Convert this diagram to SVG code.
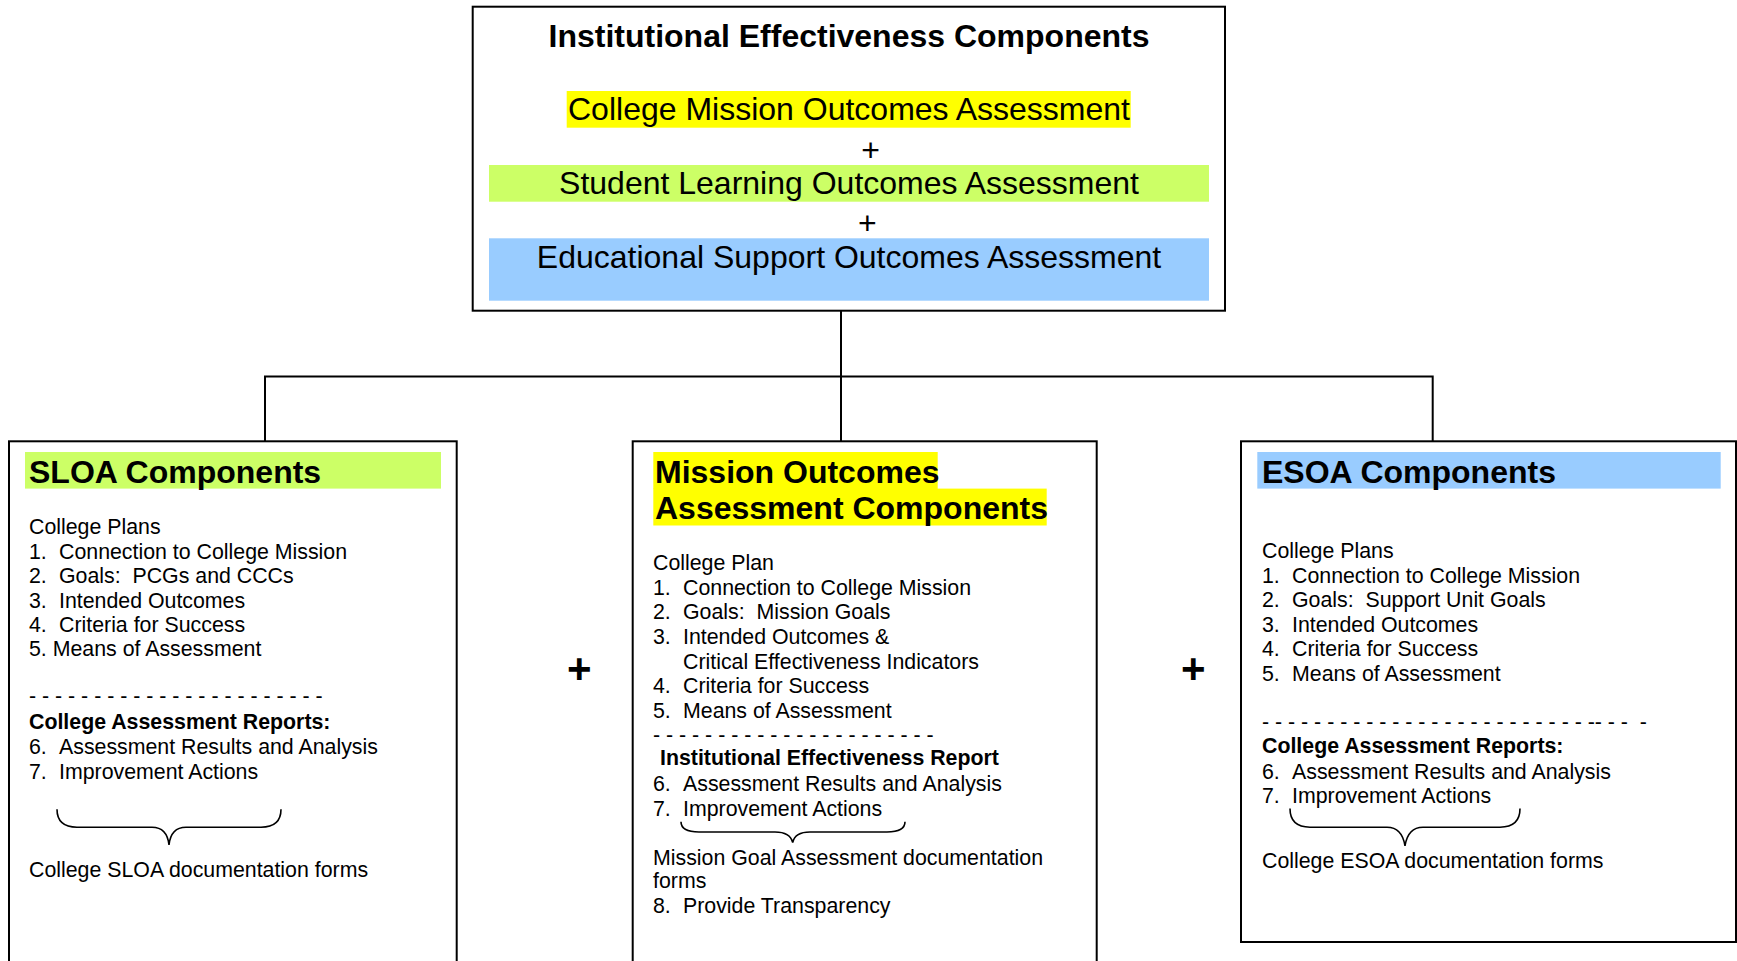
<svg xmlns="http://www.w3.org/2000/svg" width="1737" height="961" viewBox="0 0 1737 961">
<style>
  text { font-family: "Liberation Sans", Arial, sans-serif; fill: #000; white-space: pre; }
  .box { fill: #fff; stroke: #000; stroke-width: 2; }
  .conn { fill: none; stroke: #000; stroke-width: 2; }
  .brace { fill: none; stroke: #000; stroke-width: 1.6; }
  .big { font-size: 32px; }
  .hdr { font-size: 32px; font-weight: bold; }
  .body { font-size: 21.33px; }
  .bold { font-size: 21.33px; font-weight: bold; }
  .plus { font-size: 42px; font-weight: bold; }
  .yel { fill: #FFFF00; }
  .grn { fill: #CCFF66; }
  .blu { fill: #99CCFF; }
</style>
<rect width="1737" height="961" fill="#fff"/>

<g id="connectors">
  <path class="conn" d="M841,311 V441"/>
  <path class="conn" d="M265,441 V376.5 H1432.7 V441"/>
</g>

<g id="top">
  <rect class="box" x="472.7" y="6.7" width="752.3" height="304"/>
  <text x="849" y="46.7" class="hdr" text-anchor="middle">Institutional Effectiveness Components</text>
  <rect class="yel" x="566.7" y="91" width="564" height="36.7"/>
  <text x="849" y="120" class="big" text-anchor="middle">College Mission Outcomes Assessment</text>
  <text x="870.7" y="161" class="big" text-anchor="middle">+</text>
  <rect class="grn" x="489" y="165" width="720" height="36.7"/>
  <text x="849" y="194.3" class="big" text-anchor="middle">Student Learning Outcomes Assessment</text>
  <text x="867.3" y="233.5" class="big" text-anchor="middle">+</text>
  <rect class="blu" x="489" y="238.3" width="720" height="62.4"/>
  <text x="849" y="267.7" class="big" text-anchor="middle">Educational Support Outcomes Assessment</text>
</g>

<g id="sloa">
  <rect class="box" x="9" y="441.3" width="447.7" height="540"/>
  <rect class="grn" x="25" y="452" width="416" height="36.6"/>
  <text x="29" y="482.5" class="hdr">SLOA Components</text>
  <g class="body">
    <text x="29" y="534.3">College Plans</text>
    <text x="29" y="558.7">1.</text><text x="59" y="558.7">Connection to College Mission</text>
    <text x="29" y="583.1">2.</text><text x="59" y="583.1" xml:space="preserve">Goals:  PCGs and CCCs</text>
    <text x="29" y="607.8">3.</text><text x="59" y="607.8">Intended Outcomes</text>
    <text x="29" y="632.2">4.</text><text x="59" y="632.2">Criteria for Success</text>
    <text x="29" y="656.2">5. Means of Assessment</text>
    <text x="29" y="703.3" xml:space="preserve">- - - - - - - - - - - - - - - - - - - - - - -</text>
    <text x="29" y="754.4">6.</text><text x="59" y="754.4">Assessment Results and Analysis</text>
    <text x="29" y="778.8">7.</text><text x="59" y="778.8">Improvement Actions</text>
    <text x="29" y="877">College SLOA documentation forms</text>
  </g>
  <text x="29" y="729" class="bold">College Assessment Reports:</text>
  <path class="brace" d="M57,809.3 Q57,827.2 77,827.2 L152,827.2 Q167,827.2 169,844.8 Q171,827.2 186,827.2 L261,827.2 Q281,827.2 281,809.3"/>
</g>

<g id="mission">
  <rect class="box" x="632.7" y="441.3" width="464" height="540"/>
  <rect class="yel" x="653.3" y="452" width="284.4" height="37"/>
  <rect class="yel" x="653.3" y="488.6" width="393.4" height="36.9"/>
  <text x="655" y="482.5" class="hdr">Mission Outcomes</text>
  <text x="655" y="518.7" class="hdr">Assessment Components</text>
  <g class="body">
    <text x="653" y="569.5">College Plan</text>
    <text x="653" y="595.3">1.</text><text x="683" y="595.3">Connection to College Mission</text>
    <text x="653" y="619">2.</text><text x="683" y="619" xml:space="preserve">Goals:  Mission Goals</text>
    <text x="653" y="644">3.</text><text x="683" y="644">Intended Outcomes &amp;</text>
    <text x="683" y="668.7">Critical Effectiveness Indicators</text>
    <text x="653" y="693.1">4.</text><text x="683" y="693.1">Criteria for Success</text>
    <text x="653" y="717.8">5.</text><text x="683" y="717.8">Means of Assessment</text>
    <text x="653" y="741.6" xml:space="preserve">- - - - - - - - - - - - - - - - - - - - - -</text>
    <text x="653" y="790.6">6.</text><text x="683" y="790.6">Assessment Results and Analysis</text>
    <text x="653" y="816">7.</text><text x="683" y="816">Improvement Actions</text>
    <text x="653" y="864.5">Mission Goal Assessment documentation</text>
    <text x="653" y="888.2">forms</text>
    <text x="653" y="912.6">8.</text><text x="683" y="912.6">Provide Transparency</text>
  </g>
  <text x="660" y="765.3" class="bold">Institutional Effectiveness Report</text>
  <path class="brace" d="M681,821.8 Q681,832 699,832 L775,832 Q790,832 792.7,842.5 Q795,832 810,832 L887,832 Q905,832 905,821.8"/>
</g>

<g id="esoa">
  <rect class="box" x="1241" y="441.3" width="495" height="500.7"/>
  <rect class="blu" x="1257.3" y="452" width="463.4" height="36.6"/>
  <text x="1262" y="482.5" class="hdr">ESOA Components</text>
  <g class="body">
    <text x="1262" y="558">College Plans</text>
    <text x="1262" y="583.1">1.</text><text x="1292" y="583.1">Connection to College Mission</text>
    <text x="1262" y="607.1">2.</text><text x="1292" y="607.1" xml:space="preserve">Goals:  Support Unit Goals</text>
    <text x="1262" y="632.2">3.</text><text x="1292" y="632.2">Intended Outcomes</text>
    <text x="1262" y="655.9">4.</text><text x="1292" y="655.9">Criteria for Success</text>
    <text x="1262" y="680.6">5.</text><text x="1292" y="680.6">Means of Assessment</text>
    <text x="1262" y="728.7" xml:space="preserve">- - - - - - - - - - - - - - - - - - - - - - - - - -- - -  -</text>
    <text x="1262" y="778.8">6.</text><text x="1292" y="778.8">Assessment Results and Analysis</text>
    <text x="1262" y="802.5">7.</text><text x="1292" y="802.5">Improvement Actions</text>
    <text x="1262" y="867.9">College ESOA documentation forms</text>
  </g>
  <text x="1262" y="753.4" class="bold">College Assessment Reports:</text>
  <path class="brace" d="M1290,808.6 Q1290,827.2 1310,827.2 L1387,827.2 Q1402,827.2 1405,845.8 Q1408,827.2 1423,827.2 L1500,827.2 Q1520,827.2 1520,808.6"/>
</g>

<g id="plus-signs">
  <text x="579.3" y="683" class="plus" text-anchor="middle">+</text>
  <text x="1193.3" y="683" class="plus" text-anchor="middle">+</text>
</g>
</svg>
